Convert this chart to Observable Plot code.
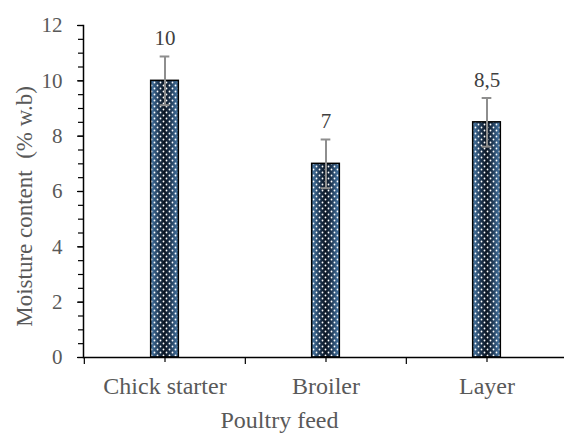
<!DOCTYPE html>
<html>
<head>
<meta charset="utf-8">
<script src="https://cdn.jsdelivr.net/npm/d3@7"></script>
<script src="https://cdn.jsdelivr.net/npm/@observablehq/plot@0.6"></script>
<style>
  html, body { margin: 0; padding: 0; background: #fff; }
  #chart { width: 564px; height: 436px; overflow: hidden; }
</style>
</head>
<body>
<div id="chart"></div>
<script>
// ---- data ----
const feeds = ["Chick starter", "Broiler", "Layer"];
const moisture = [10, 7, 8.5];
const errors = [0.88, 0.88, 0.88];
const valueLabels = ["10", "7", "8,5"];
const yMajorTicks = [0, 2, 4, 6, 8, 10, 12];
const yMinorTicks = [0, 0.5, 1, 1.5, 2, 2.5, 3, 3.5, 4, 4.5, 5, 5.5, 6, 6.5, 7, 7.5, 8, 8.5, 9, 9.5, 10, 10.5, 11, 11.5, 12];
const xTitle = "Poultry feed";
const yTitle = "Moisture content  (% w.b)";

const data = feeds.map((f, i) => ({feed: f, value: moisture[i], err: errors[i], label: valueLabels[i]}));

// ---- layout ----
const W = 564, H = 436;
const padL = 83, padT = 25, axisBottom = 357, xEnd = 567;
const step = (xEnd - padL) / feeds.length;
const barW = 28;
const inset = (step - barW) / 2;
const capW = 10;
const capInset = (step - capW) / 2;
const frameCx = (padL + W) / 2;

const serif = "'Liberation Serif', 'Times New Roman', 'DejaVu Serif', serif";
const errColor = "#8e8e8e";
const textColor = "#595959";

const chart = Plot.plot({
  width: W,
  height: H,
  marginLeft: padL,
  marginRight: 0,
  marginTop: padT,
  marginBottom: H - axisBottom,
  style: {fontFamily: serif, color: textColor, background: "white"},
  x: {domain: feeds, range: [padL, xEnd], padding: 0, axis: null},
  y: {domain: [0, 12], axis: null},
  marks: [
    // bars: gradient base + dot pattern overlay
    Plot.barY(data, {x: "feed", y: "value", fill: "url(#barGrad)", insetLeft: inset, insetRight: inset}),
    Plot.barY(data, {x: "feed", y: "value", fill: "url(#barDots)", stroke: "black", strokeWidth: 1.5, insetLeft: inset, insetRight: inset}),
    // error bars
    Plot.ruleX(data, {x: "feed", y1: d => d.value - d.err, y2: d => d.value + d.err, stroke: errColor, strokeWidth: 2}),
    Plot.tickY(data, {x: "feed", y: d => d.value + d.err, stroke: errColor, strokeWidth: 2, insetLeft: capInset, insetRight: capInset}),
    Plot.tickY(data, {x: "feed", y: d => d.value - d.err, stroke: errColor, strokeWidth: 2, insetLeft: capInset, insetRight: capInset}),
    // value labels
    Plot.text(data, {x: "feed", y: d => d.value + d.err, text: "label", dy: -11, lineAnchor: "bottom", fontSize: 21, fontFamily: serif, fill: "#404040"}),
    // y axis
    Plot.axisY({ticks: yMinorTicks, tickSize: 5, stroke: "black", strokeWidth: 1.2, tickFormat: () => "", label: null}),
    Plot.axisY({ticks: yMajorTicks, tickSize: 6, stroke: "black", strokeWidth: 1.2, tickFormat: () => "", label: null}),
    Plot.axisY({ticks: yMajorTicks, tickSize: 0, tickPadding: 21, fontSize: 21, fontFamily: serif, fill: textColor, label: null}),
    Plot.frame({anchor: "left", stroke: "black", strokeWidth: 1.5}),
    // x axis
    Plot.ruleY([0], {stroke: "black", strokeWidth: 1.5}),
    Plot.axisX({tickSize: 5, stroke: "black", strokeWidth: 1.2, tickFormat: () => "", label: null}),
    Plot.axisX({tickSize: 7, dx: -step / 2, stroke: "black", strokeWidth: 1.2, tickFormat: () => "", label: null}),
    Plot.axisX({tickSize: 0, tickPadding: 19, fontSize: 24, fontFamily: serif, fill: textColor, label: null}),
    // titles
    Plot.text([xTitle], {text: d => d, frameAnchor: "bottom", textAnchor: "middle", lineAnchor: "middle", dx: 279 - frameCx, dy: 63, fontSize: 24, fontFamily: serif, fill: textColor}),
    Plot.text([yTitle], {text: d => d, frameAnchor: "left", textAnchor: "middle", lineAnchor: "middle", rotate: -90, dx: 24 - padL, dy: 206 - (padT + axisBottom) / 2, fontSize: 23, fontFamily: serif, fill: textColor})
  ]
});

// defs: gradient and dot pattern for bars
const svg = d3.select(chart);
const defs = svg.insert("defs", ":first-child");
const grad = defs.append("linearGradient").attr("id", "barGrad").attr("x1", "0%").attr("x2", "100%").attr("y1", "0%").attr("y2", "0%");
grad.append("stop").attr("offset", "0%").attr("stop-color", "#4a7cab");
grad.append("stop").attr("offset", "30%").attr("stop-color", "#1d3550");
grad.append("stop").attr("offset", "50%").attr("stop-color", "#0b1522");
grad.append("stop").attr("offset", "70%").attr("stop-color", "#1d3550");
grad.append("stop").attr("offset", "100%").attr("stop-color", "#4a7cab");
const pat = defs.append("pattern").attr("id", "barDots").attr("patternUnits", "userSpaceOnUse").attr("width", 6).attr("height", 6);
pat.append("circle").attr("cx", 1.5).attr("cy", 1.5).attr("r", 0.9).attr("fill", "white");
pat.append("circle").attr("cx", 4.5).attr("cy", 4.5).attr("r", 0.9).attr("fill", "white");

document.getElementById("chart").appendChild(chart);
</script>
</body>
</html>
